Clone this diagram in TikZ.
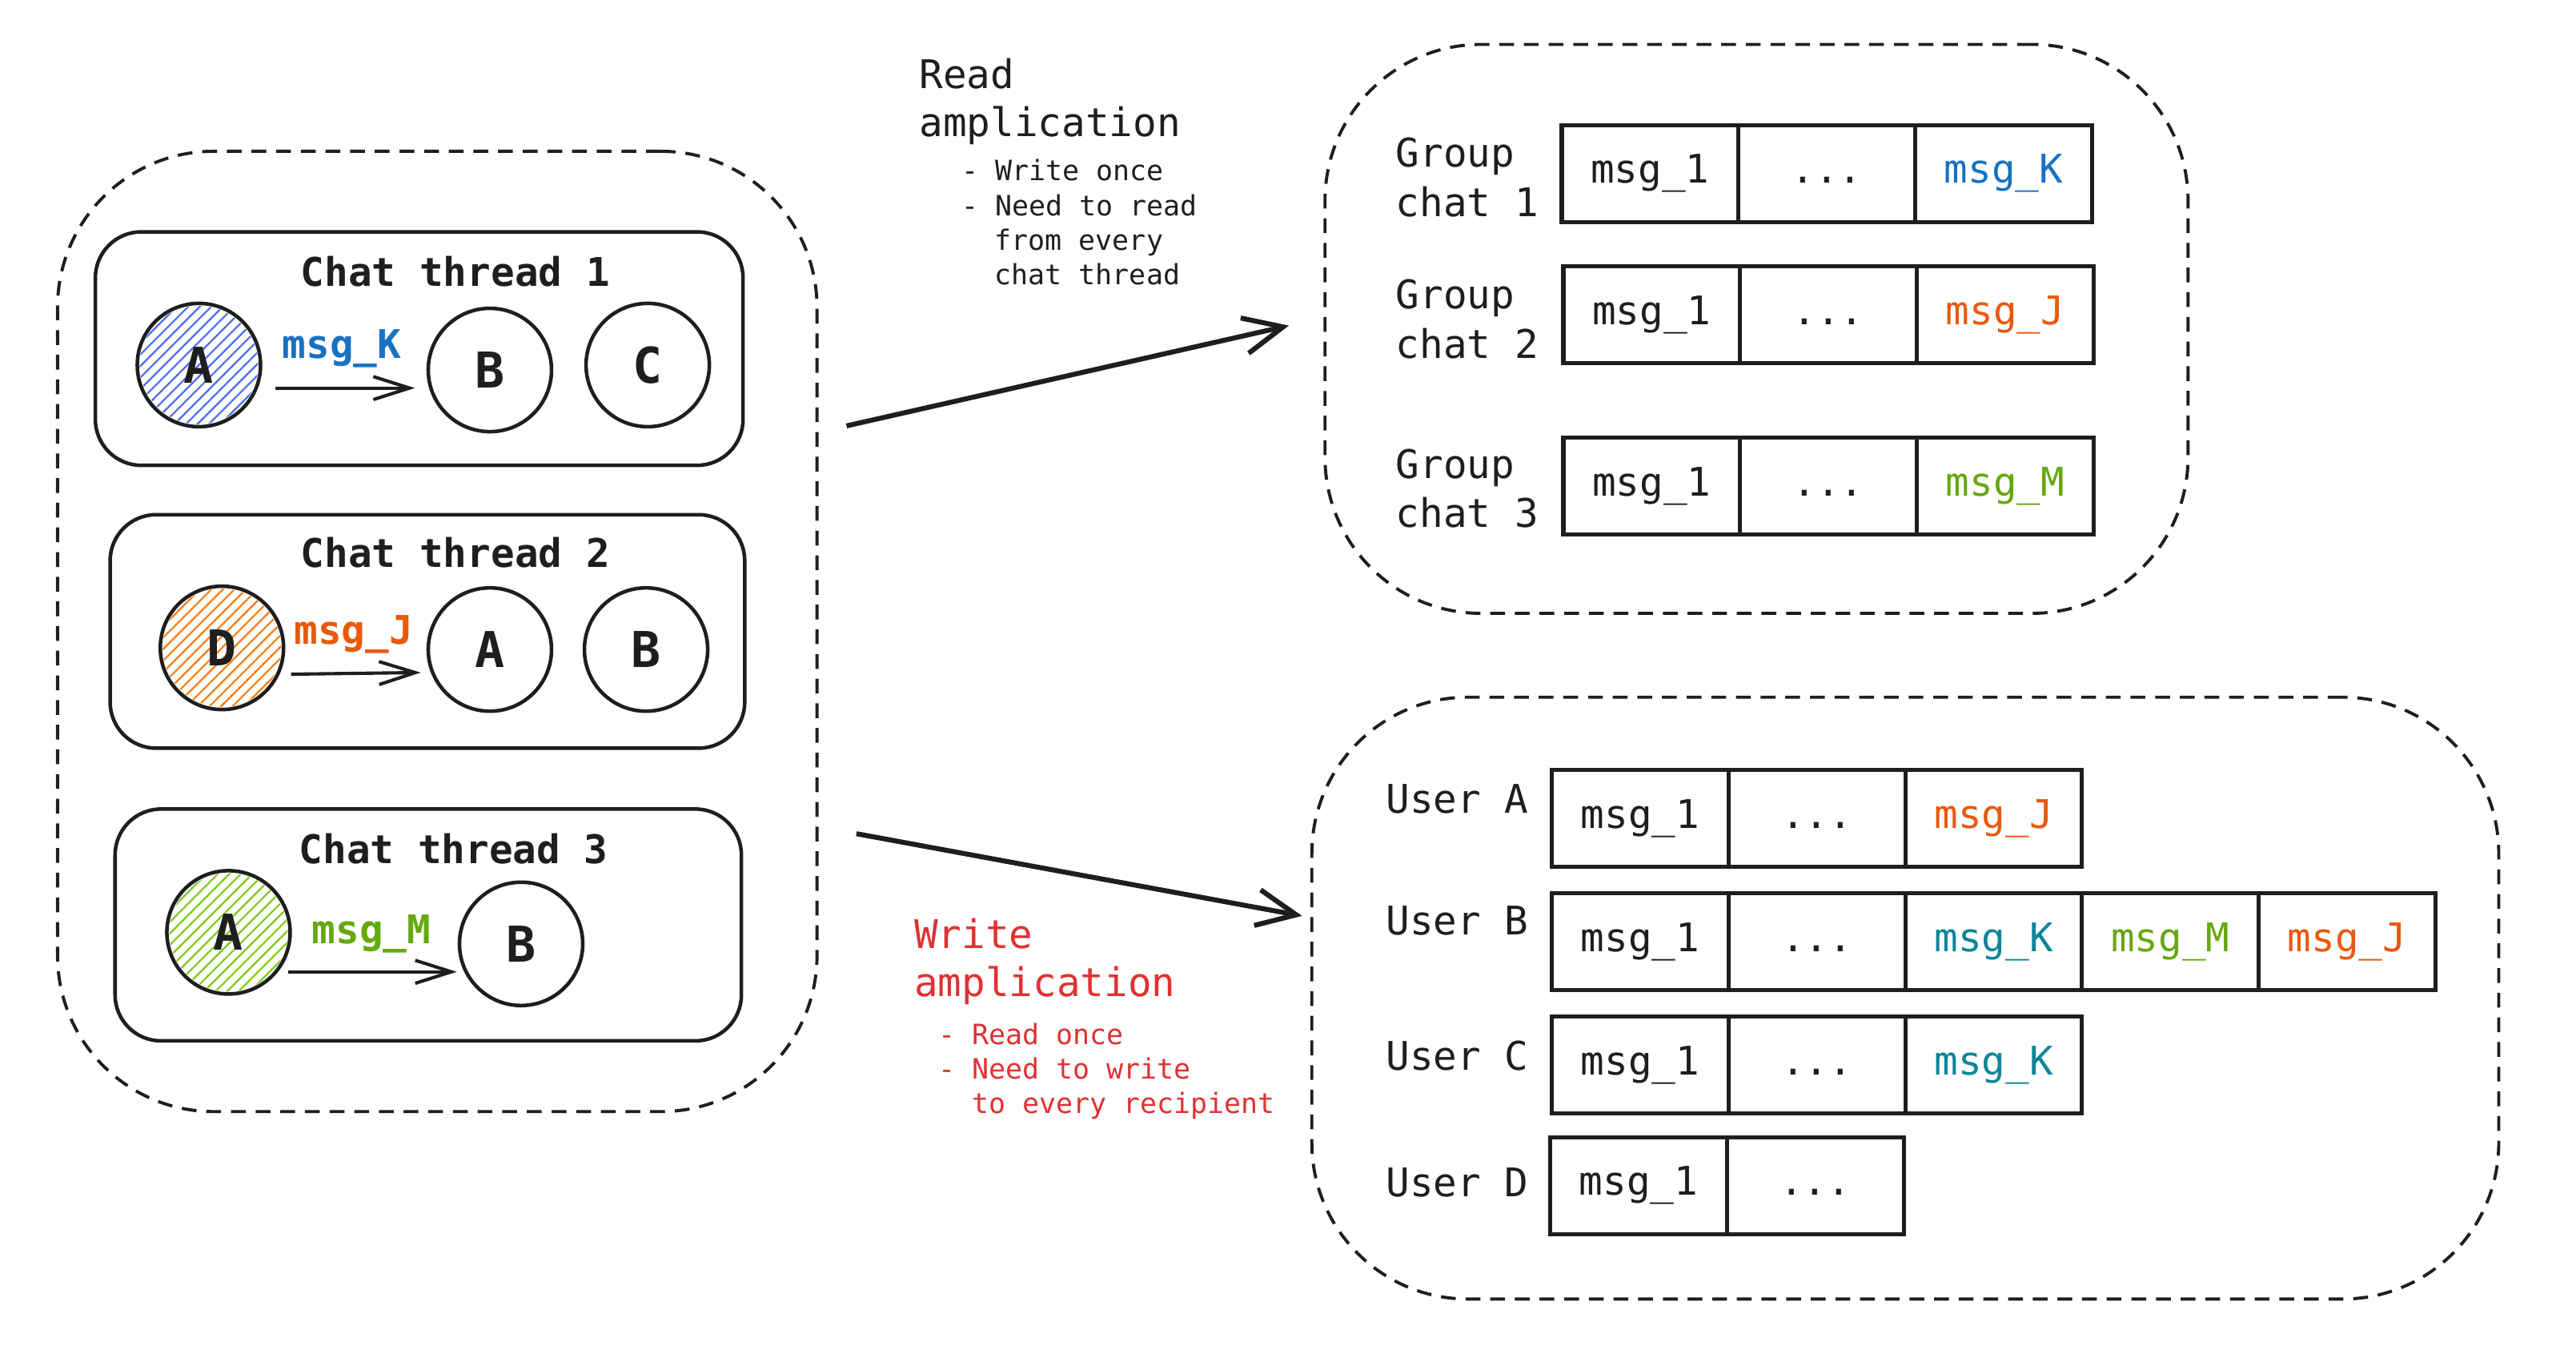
\documentclass[tikz,border=0pt]{standalone}
\usepackage{fontspec}
\newfontfamily\mono{DejaVu Sans Mono}
\usetikzlibrary{arrows.meta,calc}
\definecolor{cblue}{HTML}{1971C2}
\definecolor{cteal}{HTML}{0C8599}
\definecolor{corange}{HTML}{E8590C}
\definecolor{cgreen}{HTML}{66A80F}
\definecolor{cred}{HTML}{E03131}
\definecolor{hblue}{HTML}{4C6EF5}
\definecolor{horange}{HTML}{FD7E14}
\definecolor{hgreen}{HTML}{82C91E}
\definecolor{ink}{HTML}{1E1E1E}
\tikzset{
 container/.style={draw=ink, line width=1.9pt, dash pattern=on 9pt off 6pt, rounded corners=95pt, inner sep=0pt},
 threadbox/.style={draw=ink, line width=2.2pt, rounded corners=28pt, inner sep=0pt},
 person/.style={circle, draw=ink, line width=2.2pt, minimum size=75pt, inner sep=0pt, font=\mono\bfseries\fontsize{30}{30}\selectfont, text=ink},
 title/.style={font=\mono\bfseries\fontsize{24}{28}\selectfont, text=ink},
 msglbl/.style={font=\mono\bfseries\fontsize{24}{28}\selectfont},
 cell/.style={draw=ink, line width=2.5pt, minimum width=107.5pt, minimum height=59pt, inner sep=0pt, outer sep=0pt, anchor=west, text height=17pt, text depth=5pt, font=\mono\fontsize{24}{28}\selectfont, text=ink},
 rowlbl/.style={font=\mono\fontsize{24}{30}\selectfont, text=ink, align=left, anchor=west, inner sep=0pt},
 headline/.style={font=\mono\fontsize{24}{29}\selectfont, anchor=base west, inner sep=0pt},
 bulletline/.style={font=\mono\fontsize{17}{21}\selectfont, anchor=base west, inner sep=0pt},
 msgarrow/.style={draw=ink, line width=2pt, -{Straight Barb[length=22pt,width=14pt]}},
 bigarrow/.style={draw=ink, line width=3pt, -{Straight Barb[length=24pt,width=22pt]}},
}
\newcommand\hatchdisc[3]{%
 \begin{scope}
 \clip (#1,#2) circle (36pt);
 \foreach \i in {-91,-84,...,91} \draw[#3, line width=1.1pt] ({#1+\i-45},{#2+45}) -- ({#1+\i+45},{#2-45});
 \end{scope}}
\begin{document}
\begin{tikzpicture}[x=1pt,y=-1pt]
\useasboundingbox (0,0) rectangle (1567,828);
% containers
\node[container, minimum width=462pt, minimum height=584pt] (left) at (266,384) {};
\node[container, minimum width=525pt, minimum height=346pt] (rc) at (1068.5,200) {};
\node[container, minimum width=722pt, minimum height=366pt] (wc) at (1159,607) {};
% thread boxes
\node[threadbox, minimum width=394pt, minimum height=142pt] (t1) at (255,212) {};
\node[threadbox, minimum width=386pt, minimum height=142pt] (t2) at (260,384) {};
\node[threadbox, minimum width=381pt, minimum height=141pt] (t3) at (260.5,562.5) {};
\node[title] (t1title) at (277,165) {Chat thread 1};
\node[title] (t2title) at (277,336) {Chat thread 2};
\node[title] (t3title) at (276,516) {Chat thread 3};
% thread 1
\hatchdisc{121}{222}{hblue}
\node[person] (A1) at (121,222) {A};
\node[person] (B1) at (298,225) {B};
\node[person] (C1) at (394,222) {C};
\node[msglbl, text=cblue] (k1) at (208,212) {msg\_K};
\draw[msgarrow] ($(A1.east)+(8,14)$) -- ($(B1.west)+(-7,11)$);
% thread 2
\hatchdisc{135}{394}{horange}
\node[person] (D2) at (135,394) {D};
\node[person] (A2) at (298,395) {A};
\node[person] (B2) at (393,395) {B};
\node[msglbl, text=corange] (j2) at (215,386) {msg\_J};
\draw[msgarrow] ($(D2.east)+(3.5,16)$) -- ($(A2.west)+(-3.5,14)$);
% thread 3
\hatchdisc{139}{567}{hgreen}
\node[person] (A3) at (139,567) {A};
\node[person] (B3) at (317,574) {B};
\node[msglbl, text=cgreen] (m3) at (226,568) {msg\_M};
\draw[msgarrow] ($(A3.east)+(-2.5,24)$) -- ($(B3.west)+(-0.5,17)$);
% read amplification text
\node[headline, text=ink] (rd1) at (559,54) {Read};
\node[headline, text=ink] (rd2) at (559,83) {amplication};
\node[bulletline, text=ink] (rb1) at (585,110) {- Write once};
\node[bulletline, text=ink] (rb2) at (585,131) {- Need to read};
\node[bulletline, text=ink] (rb3) at (605,152) {from every};
\node[bulletline, text=ink] (rb4) at (605,173) {chat thread};
% write amplification text
\node[headline, text=cred] (wr1) at (556,577) {Write};
\node[headline, text=cred] (wr2) at (556,606) {amplication};
\node[bulletline, text=cred] (wb1) at (570.5,635) {- Read once};
\node[bulletline, text=cred] (wb2) at (570.5,656) {- Need to write};
\node[bulletline, text=cred] (wb3) at (591,677) {to every recipient};
% big arrows
\draw[bigarrow] ($(left.east)+(17,-125)$) -- ($(rc.west)+(-21,-2)$);
\draw[bigarrow] ($(left.east)+(23,123)$) -- ($(wc.west)+(-5,-50)$);
% group chats
\node[rowlbl] (gl1) at (849,108) {Group\\chat 1};
\node[rowlbl] (gl2) at (849,194) {Group\\chat 2};
\node[rowlbl] (gl3) at (849,297) {Group\\chat 3};
\node[cell] (g1a) at (950,105.5) {msg\_1};
\node[cell] (g1b) at (g1a.east) {...};
\node[cell, text=cblue] (g1c) at (g1b.east) {msg\_K};
\node[cell] (g2a) at (951,191.5) {msg\_1};
\node[cell] (g2b) at (g2a.east) {...};
\node[cell, text=corange] (g2c) at (g2b.east) {msg\_J};
\node[cell] (g3a) at (951,295.5) {msg\_1};
\node[cell] (g3b) at (g3a.east) {...};
\node[cell, text=cgreen] (g3c) at (g3b.east) {msg\_M};
% users
\node[rowlbl] (ulA) at (843,486) {User A};
\node[rowlbl] (ulB) at (843,560) {User B};
\node[rowlbl] (ulC) at (843,642) {User C};
\node[rowlbl] (ulD) at (843,719) {User D};
\node[cell] (uAa) at (944,497.5) {msg\_1};
\node[cell] (uAb) at (uAa.east) {...};
\node[cell, text=corange] (uAc) at (uAb.east) {msg\_J};
\node[cell] (uBa) at (944,572.5) {msg\_1};
\node[cell] (uBb) at (uBa.east) {...};
\node[cell, text=cteal] (uBc) at (uBb.east) {msg\_K};
\node[cell, text=cgreen] (uBd) at (uBc.east) {msg\_M};
\node[cell, text=corange] (uBe) at (uBd.east) {msg\_J};
\node[cell] (uCa) at (944,647.5) {msg\_1};
\node[cell] (uCb) at (uCa.east) {...};
\node[cell, text=cteal] (uCc) at (uCb.east) {msg\_K};
\node[cell] (uDa) at (943,721) {msg\_1};
\node[cell] (uDb) at (uDa.east) {...};
\end{tikzpicture}
\end{document}
